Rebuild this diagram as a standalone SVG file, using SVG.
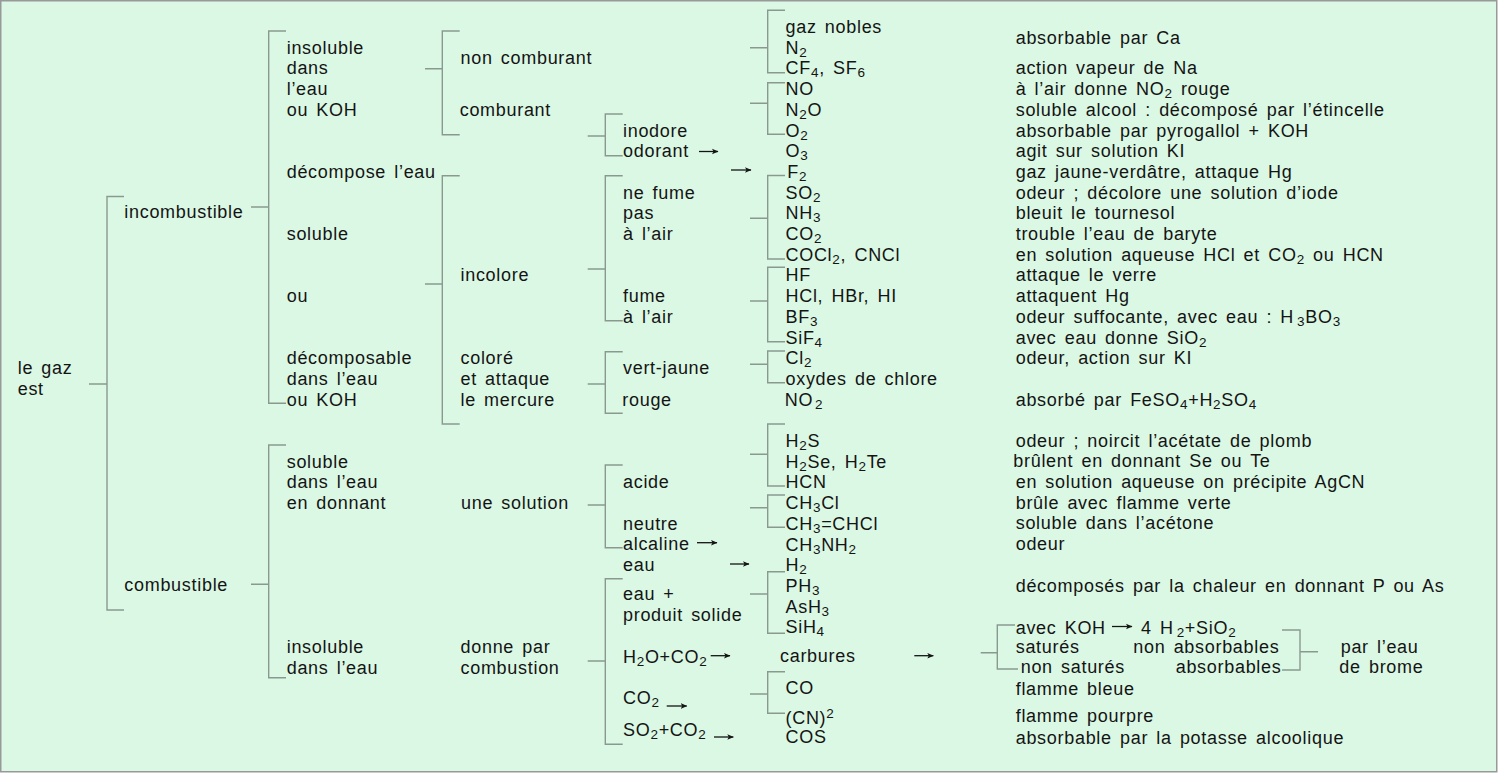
<svg xmlns="http://www.w3.org/2000/svg" width="1499" height="774" viewBox="0 0 1499 774">
<defs>
<style>
text{font-family:"Liberation Sans",Arial,sans-serif;font-size:18px;fill:#141414;letter-spacing:0.7px;word-spacing:2.5px}
.s{font-size:13.5px}
.br{fill:none;stroke:#8a9990;stroke-width:1.4}
.ar{fill:none;stroke:#141414;stroke-width:1.3}
</style>
<marker id="ah" markerWidth="8" markerHeight="8" refX="6" refY="4" orient="auto" markerUnits="userSpaceOnUse">
<path d="M0,1.2 L6.5,4 L0,6.8 L1.5,4 Z" fill="#141414"/>
</marker>
</defs>
<rect x="0" y="0" width="1499" height="774" fill="#ffffff"/>
<rect x="0.75" y="0.75" width="1496" height="771" fill="#dbf8e4" stroke="#999" stroke-width="1.5"/>

<g id="connectors">
<path class="br" d="M89,384 H107 M124,196.5 H107 V610 H124"/>
<path class="br" d="M251,207 H268.7 M286,31 H268.7 V403.3 H286"/>
<path class="br" d="M251,584.3 H268.7 M286,445 H268.7 V677.7 H286"/>
<path class="br" d="M425,68.7 H442.3 M459.7,31 H442.3 V134.7 H459.7"/>
<path class="br" d="M425,284 H442.3 M459.7,175.7 H442.3 V424 H459.7"/>
<path class="br" d="M587.7,136 H605.3 M622.7,114 H605.3 V155.7 H622.7"/>
<path class="br" d="M587.7,269 H605.3 M622.7,175.7 H605.3 V320.7 H622.7"/>
<path class="br" d="M587.7,384 H605.3 M622.7,351.7 H605.3 V413.3 H622.7"/>
<path class="br" d="M587.7,505 H605.3 M622.7,465 H605.3 V547.7 H622.7"/>
<path class="br" d="M587.7,661 H605.3 M622.7,578.7 H605.3 V744.3 H622.7"/>
<path class="br" d="M750,47.7 H767.7 M785,10.3 H767.7 V72.7 H785"/>
<path class="br" d="M750,103.3 H767.7 M785,82.7 H767.7 V134.3 H785"/>
<path class="br" d="M750,218.3 H767.7 M785,175.5 H767.7 V259 H785"/>
<path class="br" d="M750,301 H767.7 M785,267.3 H767.7 V341.7 H785"/>
<path class="br" d="M750,364.3 H767.7 M785,351 H767.7 V382.7 H785"/>
<path class="br" d="M750,454.3 H767.7 M785,424 H767.7 V486 H785"/>
<path class="br" d="M750,507.7 H767.7 M785,495 H767.7 V527.3 H785"/>
<path class="br" d="M750,594 H767.7 M785,571.7 H767.7 V633.3 H785"/>
<path class="br" d="M750,694 H767.7 M785,671.7 H767.7 V713.3 H785"/>
<path class="br" d="M980.7,652.7 H997.3 M1015,625 H997.3 V669 H1018"/>
<path class="br" d="M1282,630 H1300 V670 H1282 M1300,651.7 H1318"/>
<line class="ar" x1="699" y1="151.5" x2="718" y2="151.5" marker-end="url(#ah)"/>
<line class="ar" x1="731" y1="170" x2="751" y2="170" marker-end="url(#ah)"/>
<line class="ar" x1="697" y1="542.7" x2="717" y2="542.7" marker-end="url(#ah)"/>
<line class="ar" x1="730" y1="564" x2="749" y2="564" marker-end="url(#ah)"/>
<line class="ar" x1="710.7" y1="655.7" x2="730" y2="655.7" marker-end="url(#ah)"/>
<line class="ar" x1="666.7" y1="706" x2="686.7" y2="706" marker-end="url(#ah)"/>
<line class="ar" x1="714" y1="737" x2="733.3" y2="737" marker-end="url(#ah)"/>
<line class="ar" x1="914.3" y1="655.7" x2="933.3" y2="655.7" marker-end="url(#ah)"/>
<line class="ar" x1="1112" y1="626.5" x2="1132" y2="626.5" marker-end="url(#ah)"/>
</g>

<g id="n-legaz"><text x="17.7" y="374.3">le gaz</text><text x="17.7" y="395">est</text></g>
<g id="n-incombustible"><text x="124.3" y="217.5">incombustible</text></g>
<g id="n-combustible"><text x="124.3" y="591">combustible</text></g>

<g id="n-insoluble1"><text x="286.7" y="53.7">insoluble</text><text x="286.7" y="74.4">dans</text><text x="286.7" y="95.1">l’eau</text><text x="286.7" y="115.8">ou KOH</text></g>
<g id="n-decompose"><text x="286.7" y="177.9">décompose l’eau</text><text x="286.7" y="240">soluble</text><text x="286.7" y="302.1">ou</text><text x="286.7" y="364.2">décomposable</text><text x="286.7" y="384.9">dans l’eau</text><text x="286.7" y="405.6">ou KOH</text></g>
<g id="n-soluble2"><text x="286.7" y="467.7">soluble</text><text x="286.7" y="488.4">dans l’eau</text><text x="286.7" y="509.1">en donnant</text></g>
<g id="n-insoluble2"><text x="286.7" y="653">insoluble</text><text x="286.7" y="673.5">dans l’eau</text></g>

<g id="n-noncomburant"><text x="460.5" y="64.4">non comburant</text></g>
<g id="n-comburant"><text x="459.7" y="115.8">comburant</text></g>
<g id="n-incolore"><text x="460.5" y="281.4">incolore</text></g>
<g id="n-colore"><text x="460.5" y="364.2">coloré</text><text x="460.5" y="384.9">et attaque</text><text x="460.5" y="405.6">le mercure</text></g>
<g id="n-unesolution"><text x="461" y="509.1">une solution</text></g>
<g id="n-donnepar"><text x="460.5" y="653">donne par</text><text x="460.5" y="673.5">combustion</text></g>

<g id="n-inodore"><text x="623" y="136.5">inodore</text></g>
<g id="n-odorant"><text x="623" y="157.2">odorant</text></g>
<g id="n-nefume"><text x="623" y="198.6">ne fume</text><text x="623" y="219.3">pas</text><text x="623" y="240">à l’air</text></g>
<g id="n-fume"><text x="623" y="302.1">fume</text><text x="623" y="322.8">à l’air</text></g>
<g id="n-vertjaune"><text x="623" y="374">vert-jaune</text></g>
<g id="n-rouge"><text x="622.3" y="405.6">rouge</text></g>
<g id="n-acide"><text x="623" y="488">acide</text></g>
<g id="n-neutre"><text x="623" y="529.5">neutre</text></g>
<g id="n-alcaline"><text x="623" y="550">alcaline</text></g>
<g id="n-eau"><text x="623" y="570.5">eau</text></g>
<g id="n-eauplus"><text x="623" y="600">eau +</text><text x="623" y="621">produit solide</text></g>
<g id="n-h2oco2"><text x="623" y="662.5">H<tspan class="s" dy="3">2</tspan><tspan dy="-3">O+CO</tspan><tspan class="s" dy="3">2</tspan></text></g>
<g id="n-co2"><text x="623" y="704.3">CO<tspan class="s" dy="3">2</tspan></text></g>
<g id="n-so2co2"><text x="623" y="735.7">SO<tspan class="s" dy="3">2</tspan><tspan dy="-3">+CO</tspan><tspan class="s" dy="3">2</tspan></text></g>

<g id="n-grpA"><text x="785.5" y="33">gaz nobles</text><text x="785.5" y="53.7">N<tspan class="s" dy="3">2</tspan></text><text x="785.5" y="74.4">CF<tspan class="s" dy="3">4</tspan><tspan dy="-3">, SF</tspan><tspan class="s" dy="3">6</tspan></text></g>
<g id="n-grpB"><text x="785.5" y="95.1">NO</text><text x="785.5" y="115.8">N<tspan class="s" dy="3">2</tspan><tspan dy="-3">O</tspan></text><text x="785.5" y="136.5">O<tspan class="s" dy="3">2</tspan></text></g>
<g id="n-o3"><text x="785.5" y="157.2">O<tspan class="s" dy="3">3</tspan></text></g>
<g id="n-grpC"><text x="787.3" y="177.5">F<tspan class="s" dy="3">2</tspan></text><text x="785.5" y="198.6">SO<tspan class="s" dy="3">2</tspan></text><text x="785.5" y="219.3">NH<tspan class="s" dy="3">3</tspan></text><text x="785.5" y="240">CO<tspan class="s" dy="3">2</tspan></text><text x="785.5" y="260.7">COCl<tspan class="s" dy="3">2</tspan><tspan dy="-3">, CNCl</tspan></text></g>
<g id="n-grpD"><text x="785.5" y="281.4">HF</text><text x="785.5" y="302.1">HCl, HBr, HI</text><text x="785.5" y="322.8">BF<tspan class="s" dy="3">3</tspan></text><text x="785.5" y="343.5">SiF<tspan class="s" dy="3">4</tspan></text></g>
<g id="n-grpE"><text x="785.5" y="364.2">Cl<tspan class="s" dy="3">2</tspan></text><text x="785.5" y="384.9">oxydes de chlore</text></g>
<g id="n-no2"><text x="784.7" y="405.6">NO<tspan class="s" dx="2" dy="3">2</tspan></text></g>
<g id="n-grpF"><text x="785.5" y="447">H<tspan class="s" dy="3">2</tspan><tspan dy="-3">S</tspan></text><text x="785.5" y="467.7">H<tspan class="s" dy="3">2</tspan><tspan dy="-3">Se, H</tspan><tspan class="s" dy="3">2</tspan><tspan dy="-3">Te</tspan></text><text x="785.5" y="488.4">HCN</text></g>
<g id="n-grpG"><text x="785.5" y="509.1">CH<tspan class="s" dy="3">3</tspan><tspan dy="-3">Cl</tspan></text><text x="785.5" y="529.8">CH<tspan class="s" dy="3">3</tspan><tspan dy="-3">=CHCl</tspan></text></g>
<g id="n-ch3nh2"><text x="785.5" y="550.5">CH<tspan class="s" dy="3">3</tspan><tspan dy="-3">NH</tspan><tspan class="s" dy="3">2</tspan></text></g>
<g id="n-grpH"><text x="785.5" y="571.2">H<tspan class="s" dy="3">2</tspan></text><text x="785.5" y="591.9">PH<tspan class="s" dy="3">3</tspan></text><text x="785.5" y="612.6">AsH<tspan class="s" dy="3">3</tspan></text><text x="785.5" y="633.3">SiH<tspan class="s" dy="3">4</tspan></text></g>
<g id="n-carbures"><text x="780" y="662">carbures</text></g>
<g id="n-grpI"><text x="785.5" y="694.3">CO</text><text x="785.5" y="724">(CN)<tspan class="s" dy="-6">2</tspan></text></g>
<g id="n-cos"><text x="785.5" y="743.3">COS</text></g>

<g id="n-props">
<text x="1015.7" y="44">absorbable par Ca</text>
<text x="1015.7" y="74.4">action vapeur de Na</text>
<text x="1015.7" y="95.1">à l’air donne NO<tspan class="s" dy="3">2</tspan><tspan dy="-3"> rouge</tspan></text>
<text x="1015.7" y="115.8">soluble alcool : décomposé par l’étincelle</text>
<text x="1015.7" y="136.5">absorbable par pyrogallol + KOH</text>
<text x="1015.7" y="157.2">agit sur solution KI</text>
<text x="1015.7" y="177.9">gaz jaune-verdâtre, attaque Hg</text>
<text x="1015.7" y="198.6">odeur ; décolore une solution d’iode</text>
<text x="1015.7" y="219.3">bleuit le tournesol</text>
<text x="1015.7" y="240">trouble l’eau de baryte</text>
<text x="1015.7" y="260.7">en solution aqueuse HCl et CO<tspan class="s" dy="3">2</tspan><tspan dy="-3"> ou HCN</tspan></text>
<text x="1015.7" y="281.4">attaque le verre</text>
<text x="1015.7" y="302.1">attaquent Hg</text>
<text x="1015.7" y="322.8">odeur suffocante, avec eau : H<tspan class="s" dx="3" dy="3">3</tspan><tspan dy="-3">BO</tspan><tspan class="s" dy="3">3</tspan></text>
<text x="1015.7" y="343.5">avec eau donne SiO<tspan class="s" dy="3">2</tspan></text>
<text x="1015.7" y="364.2">odeur, action sur KI</text>
<text x="1015.7" y="406">absorbé par FeSO<tspan class="s" dy="3">4</tspan><tspan dy="-3">+H</tspan><tspan class="s" dy="3">2</tspan><tspan dy="-3">SO</tspan><tspan class="s" dy="3">4</tspan></text>
<text x="1015.7" y="446.5">odeur ; noircit l’acétate de plomb</text>
<text x="1013.3" y="467.3">brûlent en donnant Se ou Te</text>
<text x="1015.7" y="488">en solution aqueuse on précipite AgCN</text>
<text x="1015.7" y="508.7">brûle avec flamme verte</text>
<text x="1015.7" y="529.4">soluble dans l’acétone</text>
<text x="1015.7" y="550">odeur</text>
<text x="1015.7" y="591.5">décomposés par la chaleur en donnant P ou As</text>
<text x="1015.7" y="695">flamme bleue</text>
<text x="1015.7" y="721.7">flamme pourpre</text>
<text x="1015.7" y="743.7">absorbable par la potasse alcoolique</text>
</g>
<g id="n-carbprops">
<text x="1015.7" y="633.5">avec KOH</text>
<text x="1141" y="633.5">4 H<tspan class="s" dx="3" dy="3">2</tspan><tspan dy="-3">+SiO</tspan><tspan class="s" dy="3">2</tspan></text>
<text x="1015.7" y="653">saturés</text>
<text x="1133.3" y="653">non absorbables</text>
<text x="1020.7" y="672.5">non saturés</text>
<text x="1175.7" y="672.5">absorbables</text>
</g>
<g id="n-brome"><text x="1340.7" y="653">par l’eau</text><text x="1339.3" y="672.5">de brome</text></g>
</svg>
